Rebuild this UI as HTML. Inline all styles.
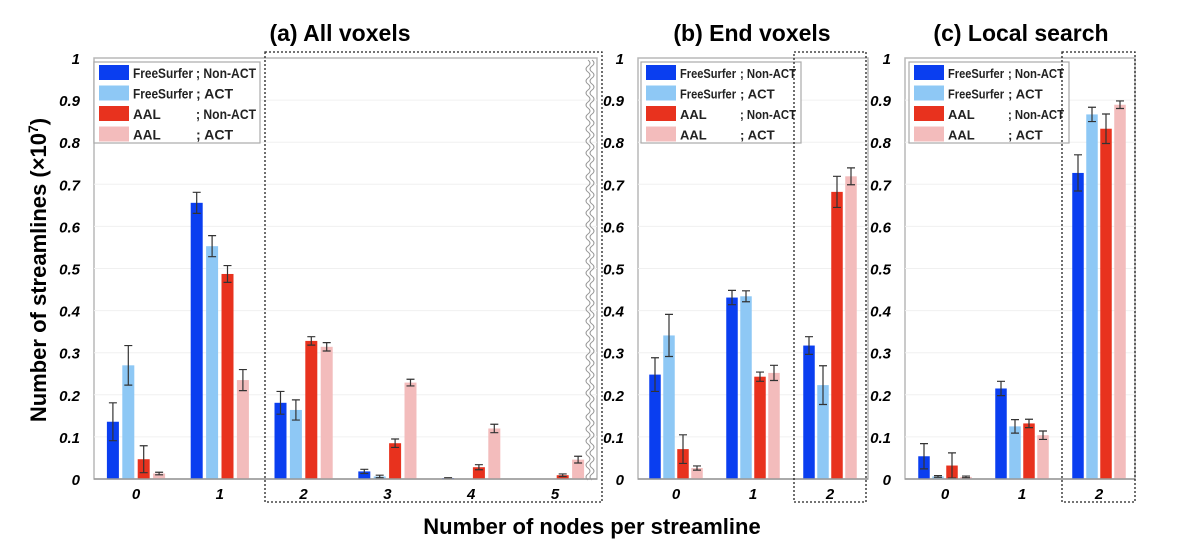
<!DOCTYPE html>
<html><head><meta charset="utf-8"><style>
body{margin:0;background:#fff;}
svg{display:block;font-family:"Liberation Sans",sans-serif;}
</style></head><body>
<svg id="chart" width="1200" height="544">
<text x="340" y="41" font-size="23" font-weight="bold" text-anchor="middle">(a) All voxels</text>
<text x="752" y="41" font-size="23" font-weight="bold" text-anchor="middle">(b) End voxels</text>
<text x="1021" y="41" font-size="23" font-weight="bold" text-anchor="middle">(c) Local search</text>
<text x="592" y="534" font-size="22" font-weight="bold" text-anchor="middle">Number of nodes per streamline</text>
<text transform="translate(46,270) rotate(-90)" font-size="22" font-weight="bold" text-anchor="middle">Number of streamlines (×10<tspan font-size="14" dy="-8">7</tspan><tspan dy="8">)</tspan></text>
</svg>
<script>
const seriesNames=["FreeSurfer ; Non-ACT","FreeSurfer ; ACT","AAL ; Non-ACT","AAL ; ACT"];
const colors=["#0a3ef0","#8ec8f5","#e8321e","#f3bcbc"];
const yTicks=[0,0.1,0.2,0.3,0.4,0.5,0.6,0.7,0.8,0.9,1];
const catsA=["0","1","2","3","4","5"];
const catsBC=["0","1","2"];
const valsA=[[0.136,0.656,0.181,0.018,0.002,0],[0.27,0.553,0.164,0.006,0,0],[0.047,0.487,0.328,0.085,0.028,0.009],[0.013,0.235,0.314,0.229,0.12,0.046]];
const errA=[[0.045,0.025,0.027,0.005,0.001,0],[0.047,0.025,0.024,0.003,0,0],[0.032,0.02,0.01,0.01,0.006,0.003],[0.003,0.025,0.01,0.008,0.01,0.008]];
const valsB=[[0.248,0.431,0.317],[0.341,0.434,0.223],[0.071,0.243,0.682],[0.026,0.252,0.719]];
const errB=[[0.04,0.017,0.021],[0.05,0.013,0.046],[0.034,0.011,0.037],[0.005,0.018,0.02]];
const valsC=[[0.054,0.215,0.727],[0.006,0.125,0.866],[0.032,0.132,0.832],[0.005,0.104,0.889]];
const errC=[[0.03,0.017,0.043],[0.002,0.016,0.017],[0.03,0.01,0.035],[0.002,0.01,0.009]];

const svg=document.getElementById('chart');
const NS='http://www.w3.org/2000/svg';
function mk(tag,attrs,parent){const e=document.createElementNS(NS,tag);for(const k in attrs)e.setAttribute(k,attrs[k]);(parent||svg).appendChild(e);return e;}
const Y0=479,Y1=58;
function yS(v){return Y0-(Y0-Y1)*v;}

function panel(id,left,right,cats,firstX,step,barStep,bw,vals,errs,legendX,legendW,fs,off2,tl,box){
  const g=mk('g',{});
  
  
  mk('rect',{x:left,y:Y1,width:right-left,height:Y0-Y1,fill:'#fff',stroke:'#b8b8b8','stroke-width':1.5},g);
  yTicks.forEach(t=>{
    if(t>0&&t<1){const l=mk('line',{x1:left,x2:right,y1:yS(t),y2:yS(t),stroke:'#f0f0f0'},g);
    }
    const tx=mk('text',{x:left-14,y:yS(t)+6,'font-size':15,'font-weight':'bold','font-style':'italic','text-anchor':'end'},g);
    tx.textContent=String(t);
    
    
  });
  cats.forEach((c,i)=>{
    const cx=firstX+i*step;
    const tx=mk('text',{x:cx,y:499,'font-size':15,'font-weight':'bold','font-style':'italic','text-anchor':'middle'},g);
    tx.textContent=c;
    
    
    for(let s=0;s<4;s++){
      const v=vals[s][i],e=errs[s][i];
      const bx=cx+(s-1.5)*barStep-bw/2;
      const r=mk('rect',{x:bx,y:yS(v),width:bw,height:Y0-yS(v),fill:colors[s]},g);
      
      
      if(e>0){const m=bx+bw/2;
        const p=mk('path',{d:`M${m-4},${yS(v+e)}H${m+4}M${m},${yS(v+e)}V${yS(v-e)}M${m-4},${yS(v-e)}H${m+4}`,stroke:'#333','stroke-width':1.2,fill:'none'},g);
        
        }
    }
  });
  mk('line',{x1:left,x2:right,y1:Y0,y2:Y0,stroke:'#999','stroke-width':1.5},g);
  const lg=mk('g',{},g);
  
  
  mk('rect',{x:legendX,y:62,width:legendW,height:81,fill:'#fff',stroke:'#aaa','stroke-width':1.2},lg);
  seriesNames.forEach((n,s)=>{
    const yy=65+s*20.5;
    mk('rect',{x:legendX+5,y:yy,width:30,height:15,fill:colors[s]},lg);
    const parts=n.split(' ; ');
    const a1={x:legendX+39,y:yy+13,'font-size':fs,'font-weight':'bold',fill:'#222'};
    if(parts[0]!=='AAL'){a1.textLength=tl;a1.lengthAdjust='spacingAndGlyphs';}
    const t1=mk('text',a1,lg);
    t1.textContent=parts[0];
    
    
    const a2={x:legendX+off2,y:yy+13,'font-size':fs,'font-weight':'bold',fill:'#222',textLength:parts[1]==='ACT'?tl*0.62:tl,lengthAdjust:'spacingAndGlyphs'};
    const t2=mk('text',a2,lg);
    t2.textContent='; '+parts[1];
    
    
  });
  const b=mk('rect',{x:box[0],y:52,width:box[1]-box[0],height:450,fill:'none',stroke:'#222','stroke-width':1.3,'stroke-dasharray':'2,2'},g);
  
  
}
panel('a',94,597,catsA,136,83.8,15.4,12,valsA,errA,94,166,13.5,102,60,[265,602]);
panel('b',638,868,catsBC,676,77,14,11.5,valsB,errB,641,160,13,99,56,[794,866]);
panel('c',905,1135,catsBC,945,77,14,11.5,valsC,errC,909,160,13,99,56,[1062,1135]);
let d='M588,60';for(let y=60;y<480;y+=6){d+=` Q${y%12?584:592},${y+3} 588,${y+6}`;}
const w1=mk('path',{d:d,stroke:'#999',fill:'none','stroke-width':1});


const w2=mk('path',{d:d,stroke:'#999',fill:'none','stroke-width':1,transform:'translate(4,0)'});


</script>
</body></html>
